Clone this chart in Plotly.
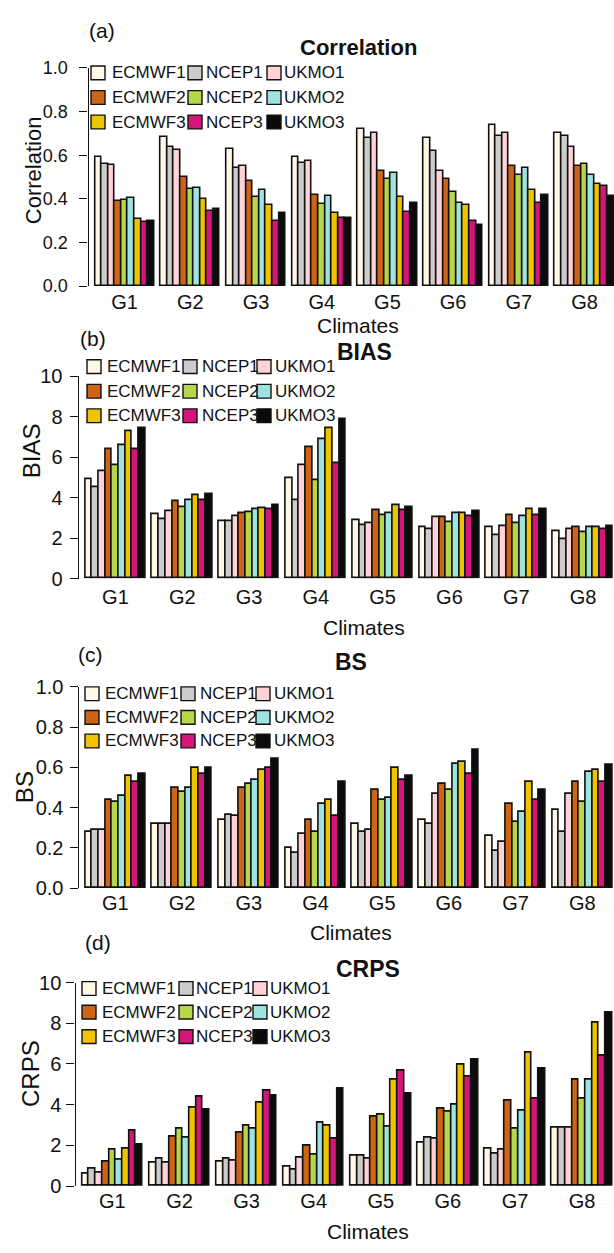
import plotly.graph_objects as go

W, H = 614, 1253
FONT = "Liberation Sans, Arial, Helvetica, sans-serif"

climates = ["G1", "G2", "G3", "G4", "G5", "G6", "G7", "G8"]
models = ["ECMWF1", "NCEP1", "UKMO1",
          "ECMWF2", "NCEP2", "UKMO2",
          "ECMWF3", "NCEP3", "UKMO3"]

model_colors = {
    "ECMWF1": "#FFF8E6", "NCEP1": "#CCCCCC", "UKMO1": "#FFD2D7",
    "ECMWF2": "#CD6416", "NCEP2": "#B6D74B", "UKMO2": "#9EE3E0",
    "ECMWF3": "#EEC300", "NCEP3": "#D4157A", "UKMO3": "#0B0B0B",
}

# Scores per model, one value per climate G1..G8
correlation = {
    "ECMWF1": [0.59, 0.685, 0.63, 0.59, 0.72, 0.68, 0.74, 0.70],
    "NCEP1":  [0.56, 0.64, 0.54, 0.565, 0.68, 0.62, 0.69, 0.69],
    "UKMO1":  [0.555, 0.625, 0.55, 0.575, 0.70, 0.53, 0.70, 0.64],
    "ECMWF2": [0.39, 0.50, 0.48, 0.42, 0.53, 0.49, 0.55, 0.55],
    "NCEP2":  [0.393, 0.443, 0.41, 0.375, 0.49, 0.43, 0.51, 0.56],
    "UKMO2":  [0.403, 0.452, 0.44, 0.415, 0.52, 0.38, 0.54, 0.51],
    "ECMWF3": [0.307, 0.40, 0.37, 0.334, 0.41, 0.37, 0.44, 0.47],
    "NCEP3":  [0.292, 0.343, 0.30, 0.31, 0.34, 0.30, 0.38, 0.46],
    "UKMO3":  [0.298, 0.355, 0.333, 0.31, 0.38, 0.282, 0.42, 0.414],
}

bias = {
    "ECMWF1": [4.92, 3.19, 2.83, 4.96, 2.88, 2.55, 2.55, 2.34],
    "NCEP1":  [4.52, 2.93, 2.86, 3.89, 2.65, 2.44, 2.15, 1.97],
    "UKMO1":  [5.32, 3.32, 3.06, 5.58, 2.75, 3.04, 2.57, 2.46],
    "ECMWF2": [6.39, 3.80, 3.25, 6.50, 3.37, 3.04, 3.11, 2.55],
    "NCEP2":  [5.60, 3.54, 3.27, 4.86, 3.14, 2.81, 2.75, 2.28],
    "UKMO2":  [6.60, 3.88, 3.43, 6.91, 3.24, 3.24, 3.07, 2.52],
    "ECMWF3": [7.28, 4.11, 3.48, 7.43, 3.61, 3.24, 3.45, 2.55],
    "NCEP3":  [6.39, 3.88, 3.45, 5.68, 3.38, 3.06, 3.11, 2.44],
    "UKMO3":  [7.43, 4.16, 3.62, 7.88, 3.53, 3.32, 3.41, 2.60],
}

bs = {
    "ECMWF1": [0.277, 0.318, 0.337, 0.198, 0.318, 0.337, 0.258, 0.388],
    "NCEP1":  [0.289, 0.318, 0.366, 0.177, 0.277, 0.318, 0.186, 0.277],
    "UKMO1":  [0.289, 0.318, 0.357, 0.268, 0.289, 0.467, 0.227, 0.467],
    "ECMWF2": [0.438, 0.498, 0.498, 0.337, 0.488, 0.519, 0.418, 0.527],
    "NCEP2":  [0.428, 0.477, 0.517, 0.277, 0.438, 0.488, 0.328, 0.428],
    "UKMO2":  [0.457, 0.498, 0.537, 0.418, 0.448, 0.618, 0.378, 0.577],
    "ECMWF3": [0.559, 0.597, 0.587, 0.438, 0.597, 0.629, 0.527, 0.587],
    "NCEP3":  [0.529, 0.568, 0.597, 0.358, 0.538, 0.568, 0.438, 0.527],
    "UKMO3":  [0.569, 0.597, 0.641, 0.529, 0.558, 0.685, 0.488, 0.611],
}

crps = {
    "ECMWF1": [0.61, 1.13, 1.21, 0.95, 1.51, 2.14, 1.86, 2.85],
    "NCEP1":  [0.85, 1.33, 1.37, 0.82, 1.51, 2.38, 1.59, 2.85],
    "UKMO1":  [0.64, 1.13, 1.25, 1.38, 1.33, 2.32, 1.77, 2.86],
    "ECMWF2": [1.22, 2.44, 2.62, 1.99, 3.41, 3.78, 4.18, 5.23],
    "NCEP2":  [1.77, 2.81, 2.96, 1.56, 3.52, 3.68, 2.83, 4.32],
    "UKMO2":  [1.32, 2.38, 2.80, 3.12, 2.94, 4.02, 3.71, 5.23],
    "ECMWF3": [1.85, 3.83, 4.10, 2.99, 5.23, 5.95, 6.57, 8.05],
    "NCEP3":  [2.72, 4.39, 4.69, 2.35, 5.69, 5.36, 4.32, 6.41],
    "UKMO3":  [2.01, 3.75, 4.45, 4.81, 4.52, 6.19, 5.79, 8.52],
}

# Panel geometry in pixels (page is W x H)
panels = [
    dict(tag="(a)", title="Correlation", ylabel="Correlation", data=correlation,
         ymax=1.0, dtick=0.2, fmt=".1f", base=280, top=58, x0=88.5, slot=6.57,
         ystand=8, xstand=2, ytick_size=18,
         tag_xy=(102, 20), title_xy=(358, 37), title_size=22,
         ylab_xy=(33, 162), ylab_size=22, clim_y=320,
         leg_rows=(63, 88, 113), leg_box=(91, 188, 267), leg_text=(110, 204, 282)),
    dict(tag="(b)", title="BIAS", ylabel="BIAS", data=bias,
         ymax=10, dtick=2, fmt="d", base=577.7, top=371.7, x0=78.7, slot=6.68,
         ystand=3, xstand=4, ytick_size=20,
         tag_xy=(93, 333), title_xy=(364, 347), title_size=23,
         ylab_xy=(31, 448), ylab_size=24, clim_y=628,
         leg_rows=(362, 387, 412), leg_box=(87, 183, 257), leg_text=(105, 200, 273)),
    dict(tag="(c)", title="BS", ylabel="BS", data=bs,
         ymax=1.0, dtick=0.2, fmt=".1f", base=892.7, top=688, x0=78.7, slot=6.67,
         ystand=2, xstand=1, ytick_size=20,
         tag_xy=(90, 655), title_xy=(351, 663), title_size=23,
         ylab_xy=(24, 790), ylab_size=24, clim_y=938,
         leg_rows=(695, 719, 743), leg_box=(85, 181, 256), leg_text=(103, 198, 272)),
    dict(tag="(d)", title="CRPS", ylabel="CRPS", data=crps,
         ymax=10, dtick=2, fmt="d", base=1196, top=989, x0=75.5, slot=6.71,
         ystand=1, xstand=1, ytick_size=20,
         tag_xy=(98, 948), title_xy=(368, 975), title_size=23,
         ylab_xy=(30, 1082), ylab_size=24, clim_y=1242,
         leg_rows=(995, 1019, 1044), leg_box=(82, 179, 253), leg_text=(100, 194, 268)),
]


def px(x):
    return x / W


def py(y):
    return 1 - y / H


fig = go.Figure()
annotations = []
shapes = []
layout_axes = {}

# bar centres: each climate takes 9 bars after one empty slot
group_centres = [g * 10 + 5.5 for g in range(len(climates))]

for k, p in enumerate(panels):
    sfx = "" if k == 0 else str(k + 1)
    xa, ya = "x" + sfx, "y" + sfx
    for i, m in enumerate(models):
        xs = [g * 10 + 1.5 + i for g in range(len(climates))]
        fig.add_trace(go.Bar(
            x=xs, y=p["data"][m], width=1.0, name=m,
            marker=dict(color=model_colors[m], line=dict(color="#111111", width=1.6)),
            xaxis=xa, yaxis=ya, showlegend=False,
        ))
    xmax = (W - p["x0"]) / p["slot"]
    layout_axes["xaxis" + sfx] = dict(
        domain=[px(p["x0"]), 1.0], range=[0, xmax], anchor=ya,
        showline=False, showgrid=False, zeroline=False, ticks="",
        tickmode="array", tickvals=group_centres, ticktext=climates,
        tickfont=dict(size=20, color="#111111", family=FONT),
        ticklabelstandoff=p["xstand"],
    )
    layout_axes["yaxis" + sfx] = dict(
        domain=[py(p["base"]), py(p["top"])], range=[0, p["ymax"]], anchor=xa,
        showline=True, linecolor="#111111", linewidth=1.4,
        ticks="outside", ticklen=8, tickwidth=1.4, tickcolor="#111111",
        dtick=p["dtick"], tick0=0, tickformat=p["fmt"],
        showgrid=False, zeroline=False,
        tickfont=dict(size=p["ytick_size"], color="#111111", family=FONT),
        ticklabelstandoff=p["ystand"],
    )
    # panel tag and bold title
    annotations.append(dict(x=px(p["tag_xy"][0]), y=py(p["tag_xy"][1]), xref="paper", yref="paper",
                            text=p["tag"], showarrow=False, xanchor="center", yanchor="middle",
                            font=dict(size=21, color="#111111", family=FONT)))
    annotations.append(dict(x=px(p["title_xy"][0]), y=py(p["title_xy"][1]), xref="paper", yref="paper",
                            text="<b>" + p["title"] + "</b>", showarrow=False,
                            xanchor="center", yanchor="middle",
                            font=dict(size=p["title_size"], color="#111111", family=FONT)))
    # axis titles
    annotations.append(dict(x=px(p["ylab_xy"][0]), y=py(p["ylab_xy"][1]), xref="paper", yref="paper",
                            text=p["ylabel"], textangle=-90, showarrow=False,
                            xanchor="center", yanchor="middle",
                            font=dict(size=p["ylab_size"], color="#111111", family=FONT)))
    annotations.append(dict(x=px(p["title_xy"][0]), y=py(p["clim_y"]), xref="paper", yref="paper",
                            text="Climates", showarrow=False, xanchor="center", yanchor="middle",
                            font=dict(size=21, color="#111111", family=FONT)))
    # three-column legend, filled row by row
    box = 14
    for i, m in enumerate(models):
        r, c = divmod(i, 3)
        yc = p["leg_rows"][r]
        bx = p["leg_box"][c]
        shapes.append(dict(type="rect", xref="paper", yref="paper",
                           x0=px(bx), x1=px(bx + box), y0=py(yc + box / 2), y1=py(yc - box / 2),
                           fillcolor=model_colors[m], line=dict(color="#111111", width=1.4)))
        annotations.append(dict(x=px(p["leg_text"][c]), y=py(yc), xref="paper", yref="paper",
                                text=m, showarrow=False, xanchor="left", yanchor="middle",
                                font=dict(size=17, color="#111111", family=FONT)))

fig.update_layout(
    width=W, height=H,
    margin=dict(l=0, r=0, t=0, b=0),
    paper_bgcolor="white", plot_bgcolor="white",
    barmode="overlay", bargap=0,
    annotations=annotations, shapes=shapes,
    **layout_axes,
)

fig.write_html("out.html")
